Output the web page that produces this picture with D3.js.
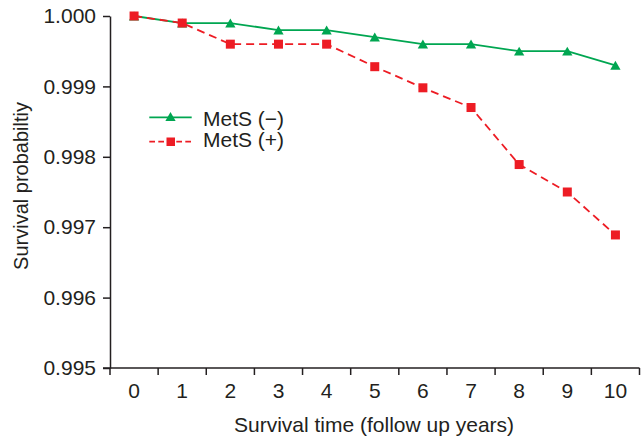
<!DOCTYPE html>
<html><head><meta charset="utf-8">
<script src="https://cdn.jsdelivr.net/npm/d3@7"></script>
<style>body{margin:0;background:#fff;} svg{display:block;}</style>
</head><body>
<svg id="chart" width="644" height="439"></svg>
<script>
const years = [0,1,2,3,4,5,6,7,8,9,10];
const metsNeg = [1.0000,0.9999,0.9999,0.9998,0.9998,0.9997,0.9996,0.9996,0.9995,0.9995,0.9993];
const metsPos = [1.0000,0.9999,0.9996,0.9996,0.9996,0.99928,0.99898,0.99870,0.99789,0.99750,0.99689];
const yTicks = [0.995,0.996,0.997,0.998,0.999,1.000];
const seriesNames = ["MetS (\u2212)","MetS (+)"];

(function(){
const svg = d3.select("#chart");
const font = "'Liberation Sans', Arial, sans-serif";
const axisColor = "#231f20";
const green = "#00a651", red = "#ed1c24";

const mL = 110, mR = 639.5, mT = 16, mB = 368;
const x = d3.scaleBand().domain(years).range([mL, mR]).padding(0);
const y = d3.scaleLinear().domain([0.995, 1.0]).range([mB, mT]);

// Y axis
const yAxis = svg.append("g").attr("transform", `translate(${mL},0)`)
  .call(d3.axisLeft(y).tickValues(yTicks).tickFormat(d3.format(".3f")).tickSize(7).tickSizeOuter(0));
yAxis.select(".domain").attr("stroke", axisColor).attr("stroke-width", 1.5);
yAxis.selectAll(".tick line").attr("stroke", axisColor).attr("stroke-width", 1.5);
yAxis.selectAll(".tick text").attr("font-family", font).attr("font-size", 21).attr("fill", axisColor).attr("x", -14);

// X axis: ticks at band edges, labels centered in bands
const xg = svg.append("g").attr("transform", `translate(0,${mB})`);
xg.append("line").attr("x1", mL - 7).attr("x2", mR).attr("y1", 0).attr("y2", 0)
  .attr("stroke", axisColor).attr("stroke-width", 1.5);
const edges = years.map(d => x(d)).concat([x(years[years.length-1]) + x.bandwidth()]);
xg.selectAll("line.edge").data(edges).join("line").attr("class","edge")
  .attr("x1", d => d).attr("x2", d => d).attr("y1", 0).attr("y2", 7)
  .attr("stroke", axisColor).attr("stroke-width", 1.5);
xg.selectAll("text.lab").data(years).join("text").attr("class","lab")
  .attr("x", d => x(d) + x.bandwidth()/2).attr("y", 29.5)
  .attr("text-anchor", "middle").attr("font-family", font).attr("font-size", 21).attr("fill", axisColor)
  .text(d => d);

// Axis titles
svg.append("text").attr("x", 234).attr("y", 432).attr("text-anchor", "start")
  .attr("font-family", font).attr("font-size", 21).attr("fill", axisColor)
  .text("Survival time (follow up years)");
svg.append("text").attr("transform", "translate(28,186) rotate(-90)").attr("text-anchor", "middle")
  .attr("font-family", font).attr("font-size", 20).attr("fill", axisColor)
  .text("Survival probabiltiy");

const cx = d => x(d) + x.bandwidth()/2;
const line = d3.line().x((d,i) => cx(years[i])).y(d => y(d));

svg.append("path").datum(metsNeg).attr("d", line).attr("fill", "none")
  .attr("stroke", green).attr("stroke-width", 1.8);
svg.append("path").datum(metsPos).attr("d", line).attr("fill", "none")
  .attr("stroke", red).attr("stroke-width", 1.8).attr("stroke-dasharray", "8,5");

const tri = d3.symbol().type(d3.symbolTriangle).size(46);
svg.selectAll("path.tri").data(metsNeg).join("path").attr("class","tri")
  .attr("d", tri).attr("fill", green)
  .attr("transform", (d,i) => `translate(${cx(years[i])},${y(d) + 1.4})`);
svg.selectAll("rect.sq").data(metsPos).join("rect").attr("class","sq")
  .attr("x", (d,i) => cx(years[i]) - 4.5).attr("y", d => y(d) - 4.5)
  .attr("width", 9).attr("height", 9).attr("fill", red);

// Legend
const lg = svg.append("g");
lg.append("line").attr("x1", 149.3).attr("x2", 191.7).attr("y1", 117.3).attr("y2", 117.3).attr("stroke", green).attr("stroke-width", 1.8);
lg.append("path").attr("d", tri).attr("fill", green).attr("transform", "translate(170.5,118)");
lg.append("line").attr("x1", 149.3).attr("x2", 191.7).attr("y1", 141.7).attr("y2", 141.7).attr("stroke", red).attr("stroke-width", 1.8).attr("stroke-dasharray", "5.7,3.3");
lg.append("rect").attr("x", 166.5).attr("y", 137.5).attr("width", 8.5).attr("height", 8.5).attr("fill", red);
lg.selectAll("text").data(seriesNames).join("text")
  .attr("x", 203).attr("y", (d,i) => 126 + i*21.3)
  .attr("font-family", font).attr("font-size", 21).attr("fill", axisColor).text(d => d);
})();
</script>
</body></html>
